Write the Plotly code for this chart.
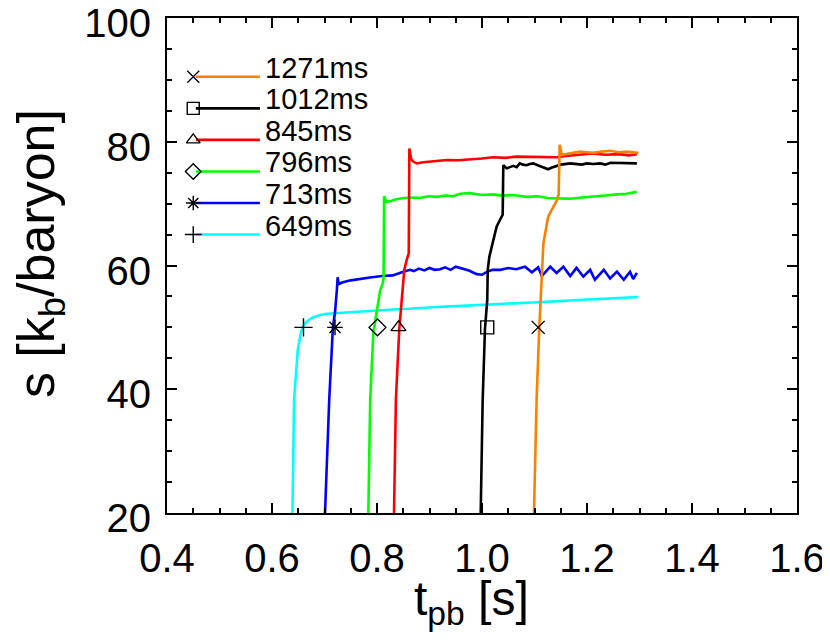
import plotly.graph_objects as go

# ---------------- data ----------------
labels = ["1271ms", "1012ms", "845ms", "796ms", "713ms", "649ms"]
colors = ["#FF8000", "#000000", "#FF0000", "#00FF00", "#0000FF", "#00FFFF"]
symbols = ["x-thin-open", "square-open", "triangle-up-open", "diamond-open", "asterisk-open", "cross-thin-open"]

t_1271 = [1.099, 1.104, 1.109, 1.1135, 1.117, 1.126, 1.136, 1.143, 1.146, 1.148, 1.152, 1.161, 1.174, 1.187, 1.200, 1.212, 1.228, 1.244, 1.260, 1.276, 1.288, 1.298]
s_1271 = [20.0, 38.3, 49.8, 59.0, 63.6, 67.9, 69.5, 70.6, 71.5, 79.5, 77.9, 78.0, 78.2, 78.4, 78.3, 78.2, 78.4, 78.55, 78.3, 78.4, 78.3, 78.2]

t_1012 = [0.9975, 1.0013, 1.0057, 1.010, 1.011, 1.014, 1.0216, 1.028, 1.0356, 1.0394, 1.0406, 1.047, 1.053, 1.060, 1.066, 1.072, 1.078, 1.085, 1.091, 1.098, 1.106, 1.114, 1.120, 1.126, 1.132, 1.139, 1.150, 1.168, 1.180, 1.190, 1.200, 1.212, 1.225, 1.235, 1.245, 1.257, 1.270, 1.280, 1.295]
s_1012 = [20.0, 38.3, 49.8, 54.4, 59.3, 61.4, 64.1, 66.3, 67.6, 68.2, 76.2, 75.7, 75.9, 76.1, 75.9, 76.5, 76.3, 76.2, 76.4, 76.5, 76.2, 75.9, 75.7, 75.55, 75.8, 76.0, 76.3, 76.5, 76.4, 76.3, 76.5, 76.4, 76.5, 76.3, 76.6, 76.6, 76.5, 76.6, 76.5]

t_845 = [0.8324, 0.836, 0.8425, 0.8476, 0.849, 0.852, 0.8566, 0.8605, 0.8616, 0.865, 0.869, 0.8756, 0.888, 0.901, 0.917, 0.933, 0.955, 0.977, 1.000, 1.021, 1.045, 1.065, 1.085, 1.110, 1.130, 1.142, 1.160, 1.180, 1.210, 1.235, 1.260, 1.280, 1.295]
s_845 = [20.0, 38.3, 49.8, 54.4, 56.6, 59.3, 60.9, 62.0, 78.9, 77.2, 76.8, 76.5, 76.7, 76.8, 77.0, 77.05, 77.0, 77.1, 77.3, 77.5, 77.4, 77.6, 77.6, 77.5, 77.6, 77.5, 77.7, 77.9, 78.1, 77.9, 78.0, 77.8, 78.0]

t_796 = [0.7835, 0.787, 0.793, 0.803, 0.806, 0.811, 0.8125, 0.8135, 0.818, 0.825, 0.837, 0.850, 0.866, 0.882, 0.898, 0.914, 0.930, 0.945, 0.958, 0.977, 1.000, 1.021, 1.040, 1.060, 1.085, 1.105, 1.125, 1.142, 1.168, 1.190, 1.212, 1.235, 1.257, 1.275, 1.295]
s_796 = [20.0, 38.3, 49.1, 54.4, 56.0, 57.1, 58.0, 71.2, 70.3, 70.4, 70.7, 70.9, 71.0, 70.9, 71.2, 71.1, 71.3, 71.2, 71.6, 71.7, 71.4, 71.5, 71.3, 71.4, 71.1, 71.2, 70.9, 70.85, 70.8, 71.0, 71.1, 71.3, 71.5, 71.6, 71.9]

t_713 = [0.701, 0.709, 0.716, 0.720, 0.7235, 0.725, 0.727, 0.735, 0.750, 0.770, 0.790, 0.810, 0.830, 0.850, 0.863, 0.870, 0.880, 0.890, 0.900, 0.910, 0.920, 0.930, 0.940, 0.950, 0.960, 0.975, 0.990, 1.000, 1.010, 1.020, 1.035, 1.050, 1.065, 1.082, 1.095, 1.107, 1.114, 1.130, 1.142, 1.155, 1.168, 1.180, 1.193, 1.206, 1.215, 1.232, 1.244, 1.257, 1.270, 1.282, 1.288, 1.295]
s_713 = [20.0, 38.3, 50.0, 52.4, 56.0, 58.1, 57.0, 57.3, 57.6, 57.9, 58.1, 58.3, 58.4, 59.0, 59.3, 59.1, 59.5, 59.2, 59.6, 59.3, 59.4, 59.7, 59.3, 59.8, 59.6, 59.2, 58.6, 58.5, 59.0, 59.3, 59.3, 59.6, 59.4, 59.8, 58.9, 59.7, 58.3, 59.8, 58.8, 59.8, 58.3, 59.6, 58.2, 59.3, 57.7, 59.3, 57.9, 59.0, 57.7, 59.0, 57.8, 58.8]

t_649 = [0.639, 0.642, 0.649, 0.655, 0.660, 0.666, 0.675, 0.691, 0.705, 0.723, 0.750, 0.780, 0.800, 0.830, 0.860, 0.890, 0.914, 0.940, 0.970, 1.000, 1.030, 1.060, 1.090, 1.116, 1.140, 1.170, 1.200, 1.230, 1.260, 1.280, 1.298]
s_649 = [20.0, 38.3, 46.3, 49.1, 50.3, 50.9, 51.5, 52.0, 52.2, 52.3, 52.5, 52.6, 52.8, 52.9, 53.0, 53.2, 53.3, 53.4, 53.5, 53.6, 53.7, 53.8, 54.0, 54.1, 54.2, 54.4, 54.5, 54.6, 54.7, 54.8, 54.9]

# marker positions on curves (symbol at s = 50)
marker_t = [1.107, 1.010, 0.841, 0.801, 0.720, 0.660]
marker_s = [50, 50, 50, 50, 50, 50]

series_t = [t_1271, t_1012, t_845, t_796, t_713, t_649]
series_s = [s_1271, s_1012, s_845, s_796, s_713, s_649]

# legend key rows (data coordinates)
legend_s = [90.5, 85.4, 80.3, 75.2, 70.1, 65.0]
legend_t_marker = 0.45
legend_t_line = [0.455, 0.577]
legend_t_text = 0.583

x_title = "t<sub>pb</sub> [s]"
y_title = "s [k<sub>b</sub>/baryon]"

FONT = "Liberation Sans, Arial, Helvetica, sans-serif"

fig = go.Figure()

# curves: draw 649 first so 1271 ends on top
for i in reversed(range(len(labels))):
    fig.add_trace(go.Scatter(x=series_t[i], y=series_s[i], mode="lines",
                             line=dict(color=colors[i], width=2.6),
                             showlegend=False, hoverinfo="skip"))

# symbols on curves
for i in range(len(labels)):
    fig.add_trace(go.Scatter(x=[marker_t[i]], y=[marker_s[i]], mode="markers",
                             marker=dict(symbol=symbols[i], size=13, color="black",
                                         line=dict(color="black", width=1.4)),
                             showlegend=False, hoverinfo="skip", cliponaxis=False))

# custom legend
for i in range(len(labels)):
    fig.add_trace(go.Scatter(x=legend_t_line, y=[legend_s[i]] * 2, mode="lines",
                             line=dict(color=colors[i], width=2.6),
                             showlegend=False, hoverinfo="skip"))
    fig.add_trace(go.Scatter(x=[legend_t_marker], y=[legend_s[i]], mode="markers",
                             marker=dict(symbol=symbols[i], size=12, color="black",
                                         line=dict(color="black", width=1.4)),
                             showlegend=False, hoverinfo="skip"))
    fig.add_annotation(x=legend_t_text, y=legend_s[i], text=labels[i],
                       xanchor="left", yanchor="middle", yshift=9, showarrow=False,
                       font=dict(family=FONT, size=29, color="black"))

# axis titles
fig.add_annotation(xref="paper", yref="paper", x=-0.2016, y=0.525, text=y_title,
                   textangle=-90, xanchor="center", yanchor="middle", showarrow=False,
                   font=dict(family=FONT, size=52, color="black"))
fig.add_annotation(xref="paper", yref="paper", x=0.484, y=-0.18, text=x_title,
                   xanchor="center", yanchor="middle", showarrow=False,
                   font=dict(family=FONT, size=48, color="black"))

axis_common = dict(showgrid=False, zeroline=False, showline=True, linecolor="black",
                   linewidth=2, mirror="ticks", ticks="inside", tickcolor="black",
                   tickwidth=2, ticklen=10, automargin=False, ticklabeloverflow="allow",
                   tickfont=dict(family=FONT, size=40, color="black"))

fig.update_xaxes(range=[0.4, 1.6], tick0=0.4, dtick=0.2, tickformat=".1f",
                 minor=dict(dtick=0.05, tick0=0.4, ticks="inside", ticklen=5, tickwidth=2, tickcolor="black"),
                 ticklabelstandoff=9, **axis_common)
fig.update_yaxes(range=[20, 100], tick0=20, dtick=20,
                 minor=dict(dtick=5, tick0=20, ticks="inside", ticklen=5, tickwidth=2, tickcolor="black"),
                 ticklabelstandoff=6, ticklabelshift=5, **axis_common)

# page body adds an 8px offset; size the figure so the plot box lands at 167..797 x 18..513
fig.update_layout(width=822, height=632, margin=dict(l=159, r=33, t=10, b=127),
                  plot_bgcolor="white", paper_bgcolor="white", showlegend=False)

fig.write_html("out.html")
